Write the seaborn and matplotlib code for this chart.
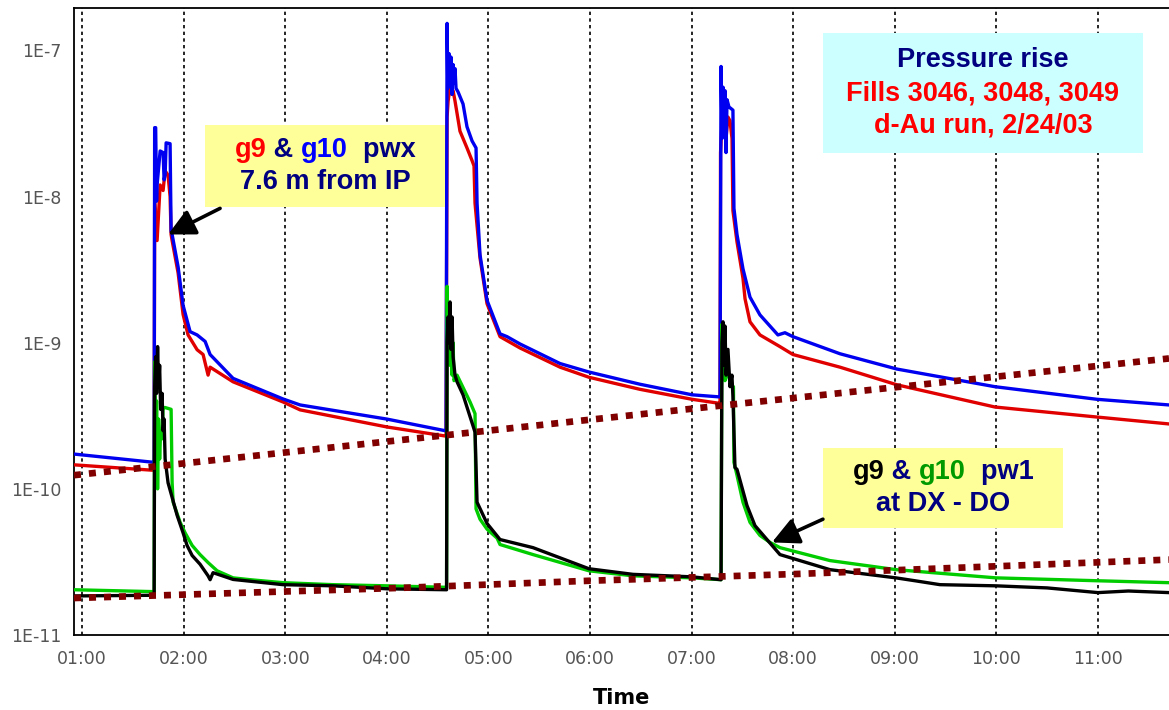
import numpy as np
import pandas as pd
import matplotlib
matplotlib.use("Agg")
import matplotlib.pyplot as plt
import seaborn as sns
from matplotlib.offsetbox import TextArea, HPacker, VPacker, AnnotationBbox
from matplotlib.patches import Rectangle
from matplotlib.ticker import MultipleLocator, FuncFormatter, LogLocator, NullFormatter

# ---------------- data (time in decimal hours, pressure in Torr) ----------------
# g10 pwx (blue)
blue_t = [0.92, 1.700, 1.709, 1.714, 1.724, 1.733, 1.738, 1.768, 1.797, 1.807, 1.817, 1.827,
          1.866, 1.876, 1.886, 1.945, 1.994, 2.063, 2.132, 2.211, 2.260, 2.486, 2.978, 3.146,
          4.002, 4.573, 4.583, 4.593, 4.600, 4.612, 4.622, 4.632, 4.642, 4.652, 4.662, 4.671,
          4.681, 4.701, 4.750, 4.789, 4.839, 4.878, 4.888, 4.917, 4.986, 5.114, 5.183, 5.311,
          5.705, 5.990, 6.490, 7.004, 7.270, 7.280, 7.290, 7.300, 7.310, 7.320, 7.329, 7.339,
          7.349, 7.368, 7.388, 7.407, 7.417, 7.447, 7.506, 7.575, 7.673, 7.850, 7.919, 7.998,
          8.461, 9.022, 9.986, 10.99, 11.70]
blue_p = [1.73e-10, 1.52e-10, 1.50e-10, 2.96e-8, 2.96e-8, 9.3e-9, 1.2e-8, 2.05e-8, 2.0e-8, 1.3e-8,
          1.4e-8, 2.33e-8, 2.3e-8, 5.8e-9, 5.5e-9, 3.3e-9, 1.8e-9, 1.19e-9, 1.13e-9, 1.02e-9,
          8.3e-10, 5.7e-10, 4.12e-10, 3.75e-10, 3.0e-10, 2.5e-10, 2.5e-10, 1.53e-7, 5.5e-8,
          9.5e-8, 6.0e-8, 9.0e-8, 5.0e-8, 8.0e-8, 6.0e-8, 7.5e-8, 5.5e-8, 5.2e-8, 4.3e-8, 3.0e-8,
          2.4e-8, 2.15e-8, 9.0e-9, 4.0e-9, 1.95e-9, 1.15e-9, 1.1e-9, 9.8e-10, 7.2e-10, 6.3e-10,
          5.2e-10, 4.4e-10, 4.26e-10, 4.26e-10, 7.76e-8, 2.5e-8, 5.6e-8, 3.0e-8, 5.3e-8, 2.0e-8,
          4.6e-8, 4.1e-8, 4.0e-8, 3.9e-8, 8.3e-9, 5.5e-9, 3.2e-9, 2.05e-9, 1.55e-9, 1.13e-9,
          1.17e-9, 1.1e-9, 8.4e-10, 6.6e-10, 5.0e-10, 4.1e-10, 3.75e-10]

# g9 pwx (red)
red_t = [0.92, 1.700, 1.709, 1.714, 1.738, 1.768, 1.797, 1.817, 1.846, 1.866, 1.876, 1.886,
         1.945, 1.994, 2.043, 2.132, 2.191, 2.240, 2.260, 2.486, 2.978, 3.146, 4.002, 4.573,
         4.583, 4.593, 4.603, 4.622, 4.642, 4.652, 4.671, 4.720, 4.789, 4.839, 4.858, 4.868,
         4.917, 4.986, 5.114, 5.311, 5.705, 5.990, 6.490, 7.004, 7.270, 7.280, 7.285, 7.300,
         7.319, 7.339, 7.358, 7.378, 7.398, 7.407, 7.447, 7.506, 7.526, 7.575, 7.673, 7.870,
         7.998, 8.461, 9.022, 9.986, 10.99, 11.70]
red_p = [1.46e-10, 1.34e-10, 1.34e-10, 9.0e-9, 5.0e-9, 1.2e-8, 1.1e-8, 1.5e-8, 1.4e-8, 1.0e-8,
         5.5e-9, 5.0e-9, 3.0e-9, 1.56e-9, 1.13e-9, 8.95e-10, 8.3e-10, 6.0e-10, 6.8e-10, 5.4e-10,
         3.93e-10, 3.47e-10, 2.65e-10, 2.3e-10, 2.3e-10, 3.5e-8, 4.5e-8, 5.6e-8, 5.0e-8, 5.3e-8,
         4.5e-8, 2.8e-8, 2.15e-8, 1.76e-8, 1.62e-8, 9.0e-9, 3.8e-9, 1.85e-9, 1.1e-9, 9.2e-10,
         6.8e-10, 5.8e-10, 4.8e-10, 4.1e-10, 3.85e-10, 3.85e-10, 2.0e-8, 3.3e-8, 3.6e-8, 2.5e-8,
         3.5e-8, 3.3e-8, 2.5e-8, 8.0e-9, 4.9e-9, 2.76e-9, 2.0e-9, 1.39e-9, 1.13e-9, 9.4e-10,
         8.3e-10, 6.8e-10, 5.15e-10, 3.63e-10, 3.1e-10, 2.78e-10]

# g10 pw1 (green)
green_t = [0.92, 1.709, 1.714, 1.724, 1.733, 1.743, 1.753, 1.763, 1.773, 1.787, 1.797, 1.817,
           1.876, 1.886, 1.896, 1.965, 2.014, 2.083, 2.161, 2.240, 2.329, 2.486, 2.654, 2.978,
           3.470, 4.002, 4.583, 4.588, 4.593, 4.603, 4.612, 4.622, 4.632, 4.642, 4.652, 4.661,
           4.691, 4.819, 4.868, 4.878, 4.917, 4.986, 5.085, 5.114, 5.439, 5.990, 6.423, 7.004,
           7.290, 7.299, 7.309, 7.319, 7.329, 7.339, 7.358, 7.378, 7.397, 7.412, 7.417, 7.447,
           7.506, 7.575, 7.673, 7.772, 7.870, 8.362, 9.012, 9.996, 11.00, 11.70]
green_p = [2.04e-11, 1.98e-11, 7.4e-10, 1.3e-10, 4.0e-10, 1.0e-10, 3.0e-10, 1.6e-10, 2.5e-10,
           2.2e-10, 3.6e-10, 3.6e-10, 3.5e-10, 1.1e-10, 8.1e-11, 5.9e-11, 5.0e-11, 4.1e-11,
           3.55e-11, 3.13e-11, 2.75e-11, 2.46e-11, 2.39e-11, 2.28e-11, 2.21e-11, 2.17e-11,
           2.12e-11, 2.12e-11, 2.43e-9, 8.0e-10, 1.8e-9, 7.0e-10, 1.3e-9, 6.0e-10, 1.0e-9,
           5.5e-10, 6.0e-10, 3.93e-10, 3.27e-10, 7.3e-11, 6.2e-11, 5.3e-11, 4.6e-11, 4.16e-11,
           3.55e-11, 2.75e-11, 2.54e-11, 2.46e-11, 2.39e-11, 1.34e-9, 6.0e-10, 1.1e-9, 5.5e-10,
           8.0e-10, 6.0e-10, 5.5e-10, 5.0e-10, 5.0e-10, 1.52e-10, 1.24e-10, 8.1e-11, 5.9e-11,
           4.8e-11, 4.3e-11, 3.96e-11, 3.23e-11, 2.8e-11, 2.46e-11, 2.35e-11, 2.28e-11]

# g9 pw1 (black)
black_t = [0.92, 1.709, 1.714, 1.724, 1.733, 1.743, 1.753, 1.763, 1.773, 1.787, 1.797, 1.807,
           1.817, 1.846, 1.935, 1.994, 2.033, 2.083, 2.161, 2.240, 2.260, 2.289, 2.486, 2.978,
           3.470, 4.002, 4.583, 4.588, 4.593, 4.603, 4.612, 4.622, 4.632, 4.642, 4.652, 4.671,
           4.691, 4.750, 4.848, 4.868, 4.888, 4.986, 5.114, 5.439, 5.990, 6.423, 7.004, 7.290,
           7.299, 7.309, 7.319, 7.329, 7.339, 7.358, 7.378, 7.397, 7.407, 7.427, 7.447, 7.545,
           7.624, 7.742, 7.870, 8.362, 9.012, 9.200, 9.445, 9.996, 10.50, 11.00, 11.30, 11.70]
black_p = [1.85e-11, 1.87e-11, 5.0e-10, 8.0e-10, 4.5e-10, 9.4e-10, 5.0e-10, 7.0e-10, 3.5e-10,
           4.5e-10, 2.5e-10, 3.0e-10, 1.6e-10, 1.1e-10, 6.6e-11, 5.0e-11, 4.1e-11, 3.5e-11,
           3.05e-11, 2.54e-11, 2.39e-11, 2.67e-11, 2.4e-11, 2.21e-11, 2.17e-11, 2.07e-11,
           2.04e-11, 2.04e-11, 1.0e-9, 1.5e-9, 1.0e-9, 1.9e-9, 9.0e-10, 1.5e-9, 8.0e-10, 6.0e-10,
           5.4e-10, 4.4e-10, 2.7e-10, 2.44e-10, 8.1e-11, 5.8e-11, 4.5e-11, 3.96e-11, 2.84e-11,
           2.6e-11, 2.5e-11, 2.39e-11, 1.0e-9, 1.39e-9, 7.0e-10, 1.3e-9, 6.0e-10, 9.0e-10, 5.0e-10,
           6.0e-10, 4.3e-10, 1.4e-10, 1.36e-10, 7.7e-11, 5.6e-11, 4.5e-11, 3.55e-11, 2.8e-11,
           2.46e-11, 2.35e-11, 2.21e-11, 2.17e-11, 2.1e-11, 1.95e-11, 2.0e-11, 1.95e-11]

# dotted reference trend lines
trend_hi_t = [0.92, 7.161, 11.70]
trend_hi_p = [1.24e-10, 3.63e-10, 7.8e-10]
trend_lo_t = [0.92, 4.130, 5.990, 8.067, 11.70]
trend_lo_p = [1.79e-11, 2.10e-11, 2.35e-11, 2.62e-11, 3.28e-11]

series_names = ["g9 pwx", "g10 pwx", "g10 pw1", "g9 pw1"]
series_colors = ["#E00000", "#0000F0", "#00CC00", "#000000"]
y_ticks = [1e-11, 1e-10, 1e-9, 1e-8, 1e-7]
y_tick_labels = ["1E-11", "1E-10", "1E-9", "1E-8", "1E-7"]

# ---------------- figure ----------------
sns.set_style("white")
plt.rcParams["font.family"] = ["DejaVu Sans"]

W, H = 1169, 710
fig = plt.figure(figsize=(W / 100, H / 100), dpi=100)
ax = fig.add_axes([74 / W, 1 - 635 / H, (W - 74) / W, (635 - 8) / H])

frames = []
for name, t, p in zip(series_names, [red_t, blue_t, green_t, black_t],
                      [red_p, blue_p, green_p, black_p]):
    frames.append(pd.DataFrame({"time": t, "pressure": p, "gauge": name}))
df = pd.concat(frames, ignore_index=True)

sns.lineplot(data=df, x="time", y="pressure", hue="gauge", hue_order=series_names,
             palette=series_colors, estimator=None, sort=False, lw=2.4,
             legend=False, ax=ax, zorder=3)

for tt, pp in [(trend_hi_t, trend_hi_p), (trend_lo_t, trend_lo_p)]:
    sns.lineplot(x=tt, y=pp, color="#800000", lw=4.8, linestyle=(0, (1.05, 1.2)),
                 estimator=None, sort=False, ax=ax, zorder=4)

ax.set_yscale("log")
ax.set_xlim(0.92, 11.70)
ax.set_ylim(1e-11, 1.95e-7)

ax.xaxis.set_major_locator(MultipleLocator(1))
ax.xaxis.set_minor_locator(MultipleLocator(0.5))
ax.xaxis.set_major_formatter(FuncFormatter(lambda h, pos: f"{int(round(h)):02d}:00"))
ax.set_yticks(y_ticks, y_tick_labels)
ax.yaxis.set_minor_locator(LogLocator(base=10, subs=np.arange(2, 10)))
ax.yaxis.set_minor_formatter(NullFormatter())

ax.grid(False)
ax.grid(axis="x", which="major", color="black", linestyle=(0, (2, 2)), lw=1.2, zorder=1)

ax.tick_params(axis="x", which="both", direction="inout", length=10, width=1.2,
               color="black", labelsize=12.5, labelcolor="#555555", pad=6)
ax.tick_params(axis="y", which="major", direction="inout", length=12, width=1.2,
               color="black", labelsize=12.5, labelcolor="#555555", pad=3)
ax.tick_params(axis="y", which="minor", direction="inout", length=7, width=1.0,
               color="black")
for s in ["left", "bottom", "top"]:
    ax.spines[s].set_color("black")
    ax.spines[s].set_linewidth(1.3)
ax.spines["right"].set_visible(False)

ax.set_xlabel("Time", fontsize=15, fontweight="bold", labelpad=14, color="black")
ax.set_ylabel("")

# ---------------- annotation boxes ----------------
FONT = "Liberation Sans"
FS = 19.5
NAVY = "#000080"


def rich_line(parts):
    return HPacker(children=[TextArea(s, textprops=dict(color=c, fontsize=FS,
                                                        fontweight="bold", family=FONT))
                             for s, c in parts], align="baseline", pad=0, sep=0)


def box(x0, y0, w, h, color, lines, sep):
    ax.add_patch(Rectangle((x0, y0), w, h, transform=ax.transAxes, facecolor=color,
                           edgecolor="none", zorder=6))
    pack = VPacker(children=[rich_line(l) for l in lines], align="center", pad=0, sep=sep)
    ab = AnnotationBbox(pack, (x0 + w / 2, y0 + h / 2), xycoords="axes fraction",
                        frameon=False, box_alignment=(0.5, 0.5), zorder=7)
    ax.add_artist(ab)


box(0.1196, 0.6826, 0.2192, 0.1308, "#FFFF99",
    [[("g9", "#FF0000"), (" & ", NAVY), ("g10", "#0000FF"), ("  pwx", NAVY)],
     [("7.6 m from IP", NAVY)]], sep=4)
box(0.684, 0.7687, 0.2922, 0.1914, "#CCFFFF",
    [[("Pressure rise", NAVY)],
     [("Fills 3046, 3048, 3049", "#FF0000")],
     [("d-Au run, 2/24/03", "#FF0000")]], sep=5)
box(0.684, 0.1707, 0.2192, 0.1276, "#FFFF99",
    [[("g9", "#000000"), (" & ", NAVY), ("g10", "#009900"), ("  pw1", NAVY)],
     [("at DX - DO", NAVY)]], sep=4)

arrow_kw = dict(arrowstyle="-|>,head_length=0.9,head_width=0.45", color="black",
                lw=2.6, mutation_scale=18, shrinkA=0, shrinkB=0)
ax.annotate("", xy=(1.846, 5.5e-9), xytext=(2.358, 8.3e-9), arrowprops=arrow_kw, zorder=8)
ax.annotate("", xy=(7.791, 4.3e-11), xytext=(8.293, 6.2e-11), arrowprops=arrow_kw, zorder=8)

fig.savefig("out.png", dpi=100, facecolor="white")
